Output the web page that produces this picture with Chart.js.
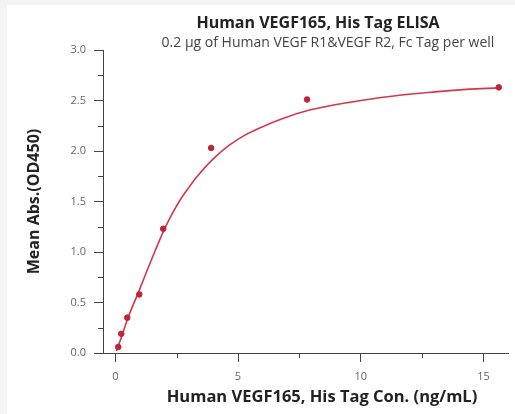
<!DOCTYPE html>
<html>
<head>
<meta charset="utf-8">
<script src="https://cdn.jsdelivr.net/npm/chart.js@4/dist/chart.umd.min.js"></script>
<style>
  html, body { margin: 0; padding: 0; background: #f4f4f4; width: 515px; height: 414px; overflow: hidden; }
  #box { position: absolute; left: 7px; top: 5px; width: 508px; height: 409px; background: #ffffff; }
  canvas { display: block; }
</style>
</head>
<body>
<div id="box"><canvas id="c" width="508" height="409"></canvas></div>
<script>
// ---- data ----
const titleText = "Human VEGF165, His Tag ELISA";
const subtitleText = "0.2 \u00b5g of Human VEGF R1&VEGF R2, Fc Tag per well";
const xAxisTitle = "Human VEGF165, His Tag Con. (ng/mL)";
const yAxisTitle = "Mean Abs.(OD450)";

const concentrations = [0.122, 0.244, 0.488, 0.977, 1.953, 3.906, 7.813, 15.625];
const absorbance     = [0.06, 0.19, 0.35, 0.58, 1.23, 2.03, 2.51, 2.63];

// fitted curve
const fitX = [0.05, 0.122, 0.244, 0.488, 0.977, 1.3, 1.62, 1.953, 2.3, 2.63, 3.0, 3.31, 3.98, 4.66, 5.3, 5.81, 6.8, 7.84, 9.0, 10.0, 11.5, 13.0, 14.3, 15.625];
const fitY = [0.02, 0.07, 0.15, 0.33, 0.62, 0.82, 1.01, 1.20, 1.37, 1.51, 1.64, 1.74, 1.92, 2.06, 2.16, 2.22, 2.32, 2.40, 2.46, 2.50, 2.55, 2.585, 2.61, 2.625];

const xTickValues = [0, 2.5, 5, 7.5, 10, 12.5, 15];
const xTickLabels = ["0", "", "5", "", "10", "", "15"];
const yTickValues = [0, 0.25, 0.5, 0.75, 1.0, 1.25, 1.5, 1.75, 2.0, 2.25, 2.5, 2.75, 3.0];
const yTickLabels = ["0.0", "", "0.5", "", "1.0", "", "1.5", "", "2.0", "", "2.5", "", "3.0"];

const FONT = "'Open Sans', 'Liberation Sans', sans-serif";
const AXIS_COLOR = '#444';

const extrasPlugin = {
  id: 'extras',
  afterDraw(chart) {
    const ctx = chart.ctx;
    const xs = chart.scales.x, ys = chart.scales.y;
    ctx.save();
    // minor ticks (shorter)
    ctx.strokeStyle = AXIS_COLOR;
    ctx.lineWidth = 1;
    ctx.beginPath();
    xTickValues.forEach((v, i) => {
      if (xTickLabels[i] === "") {
        const px = Math.round(xs.getPixelForValue(v)) + 0.5;
        ctx.moveTo(px, xs.top);
        ctx.lineTo(px, xs.top + 5);
      }
    });
    yTickValues.forEach((v, i) => {
      if (yTickLabels[i] === "") {
        const py = Math.round(ys.getPixelForValue(v)) + 0.5;
        ctx.moveTo(ys.right, py);
        ctx.lineTo(ys.right - 5, py);
      }
    });
    ctx.stroke();
    // titles
    ctx.textAlign = 'center';
    ctx.textBaseline = 'middle';
    ctx.fillStyle = '#222';
    ctx.font = "bold 16px " + FONT;
    ctx.fillText(titleText, 311, 18);
    ctx.fillStyle = '#444';
    ctx.font = "14px " + FONT;
    ctx.fillText(subtitleText, 321, 38);
    ctx.fillStyle = '#222';
    ctx.font = "bold 16.5px " + FONT;
    ctx.fillText(xAxisTitle, 315, 392);
    ctx.restore();
  }
};

new Chart(document.getElementById('c'), {
  type: 'scatter',
  data: {
    datasets: [
      {
        type: 'line',
        data: fitX.map((x, i) => ({ x: x, y: fitY[i] })),
        borderColor: '#d3374a',
        borderWidth: 1.6,
        pointRadius: 0,
        fill: false,
        cubicInterpolationMode: 'monotone',
        order: 2
      },
      {
        data: concentrations.map((x, i) => ({ x: x, y: absorbance[i] })),
        backgroundColor: '#bb2638',
        borderColor: '#bb2638',
        pointRadius: 2.8,
        pointStyle: 'circle',
        order: 1
      }
    ]
  },
  options: {
    responsive: false,
    animation: false,
    layout: { padding: { top: 45, right: 7, left: 0, bottom: 0 } },
    plugins: { legend: { display: false }, tooltip: { enabled: false } },
    scales: {
      x: {
        type: 'linear',
        min: -0.5,
        max: 16,
        afterBuildTicks: s => { s.ticks = xTickValues.map(v => ({ value: v })); },
        afterFit: s => { s.height = 61; },
        ticks: {
          autoSkip: false,
          maxRotation: 0,
          padding: 8,
          color: '#666',
          font: { family: FONT, size: 11 },
          callback: (v, i) => xTickLabels[i]
        },
        grid: {
          drawOnChartArea: false, drawTicks: true, tickLength: 9,
          tickColor: c => (xTickLabels[c.index] === "" ? 'rgba(0,0,0,0)' : AXIS_COLOR)
        },
        border: { display: true, color: AXIS_COLOR, width: 1 },
        title: { display: false, text: xAxisTitle }
      },
      y: {
        type: 'linear',
        min: 0,
        max: 3,
        afterBuildTicks: s => { s.ticks = yTickValues.map(v => ({ value: v })); },
        afterFit: s => { s.width = 96; },
        ticks: {
          autoSkip: false,
          padding: 8,
          color: '#666',
          font: { family: FONT, size: 11 },
          callback: (v, i) => yTickLabels[i]
        },
        grid: {
          drawOnChartArea: false, drawTicks: true, tickLength: 9,
          tickColor: c => (yTickLabels[c.index] === "" ? 'rgba(0,0,0,0)' : AXIS_COLOR)
        },
        border: { display: true, color: AXIS_COLOR, width: 1 },
        title: {
          display: true,
          text: yAxisTitle,
          color: '#222',
          font: { family: FONT, size: 16, weight: 'bold' },
          padding: { top: 18, bottom: 0 }
        }
      }
    }
  },
  plugins: [extrasPlugin]
});
</script>
</body>
</html>
